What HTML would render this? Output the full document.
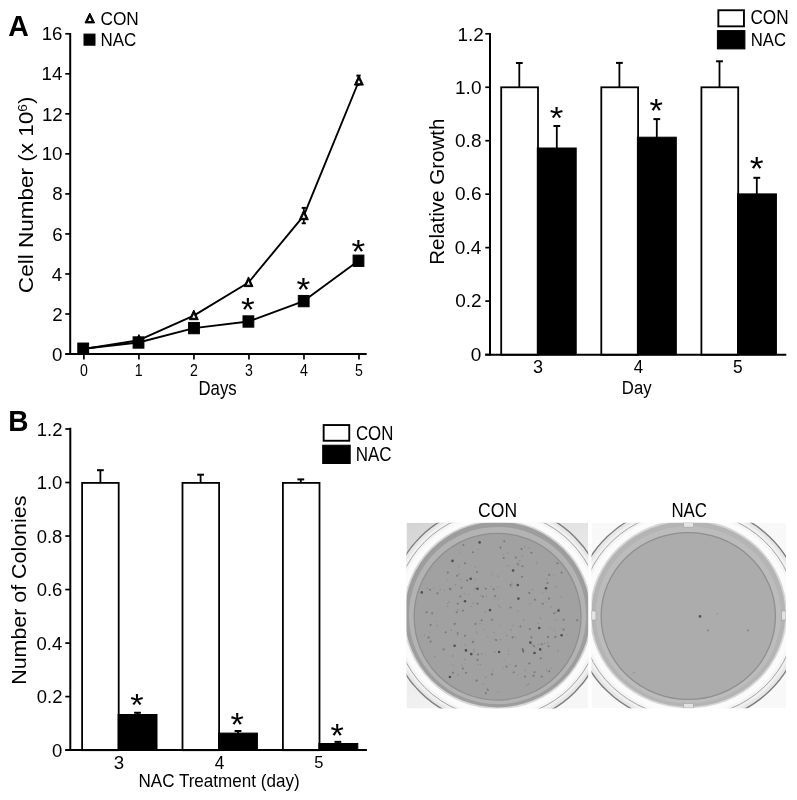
<!DOCTYPE html>
<html><head><meta charset="utf-8"><title>Figure</title>
<style>html,body{margin:0;padding:0;background:#fff;}svg{display:block;filter:grayscale(1);}</style></head>
<body><svg width="797" height="800" viewBox="0 0 797 800">
<defs><linearGradient id="bgC" x1="0" y1="0" x2="0.5" y2="1"><stop offset="0" stop-color="#d4d4d4"/><stop offset="0.45" stop-color="#e6e6e6"/><stop offset="1" stop-color="#f6f6f6"/></linearGradient>
<clipPath id="cpC"><rect x="406.5" y="522.7" width="181.7" height="185.9"/></clipPath>
<clipPath id="cpN"><rect x="591.5" y="522.7" width="194.5" height="185.5"/></clipPath>
<filter id="soft" x="-5%" y="-5%" width="110%" height="110%"><feGaussianBlur stdDeviation="0.4"/></filter></defs>
<rect width="797" height="800" fill="#fff"/>
<g clip-path="url(#cpC)">
<rect x="406.5" y="522.7" width="181.7" height="185.9" fill="url(#bgC)"/>
<g filter="url(#soft)">
<ellipse cx="497.55" cy="614.6" rx="109.5" ry="109.5" fill="#e6e6e6" stroke="#7e7e7e" stroke-width="1.4"/>
<ellipse cx="497.55" cy="614.6" rx="106" ry="106" fill="#f0f0f0"/>
<ellipse cx="497.55" cy="614.6" rx="103" ry="103" fill="#f4f4f4" stroke="#a4a4a4" stroke-width="1"/>
<ellipse cx="497.55" cy="614.6" rx="100" ry="100" fill="#fbfbfb"/>
<ellipse cx="497.55" cy="614.6" rx="94.5" ry="94.5" fill="#d6d6d6"/>
<ellipse cx="497.55" cy="614.6" rx="92.8" ry="92.8" fill="#9d9d9d"/>
<ellipse cx="497.55" cy="615.5" rx="88.6" ry="88.6" fill="#b3b3b3"/>
<ellipse cx="497.55" cy="616.7" rx="83.4" ry="83.4" fill="#a1a1a1" stroke="#8f8f8f" stroke-width="1.3"/>
</g>
<g filter="url(#soft)">
<circle cx="455.57" cy="623.68" r="0.71" fill="#8e8e8e"/>
<circle cx="514.13" cy="636.72" r="0.62" fill="#8e8e8e"/>
<circle cx="459" cy="574.09" r="0.9" fill="#8e8e8e"/>
<circle cx="492.74" cy="670.43" r="0.74" fill="#8e8e8e"/>
<circle cx="519.75" cy="560.7" r="0.79" fill="#8e8e8e"/>
<circle cx="556.39" cy="620.31" r="0.82" fill="#8e8e8e"/>
<circle cx="524.93" cy="546.85" r="0.83" fill="#8e8e8e"/>
<circle cx="512.08" cy="584.8" r="0.61" fill="#8e8e8e"/>
<circle cx="555.98" cy="612.24" r="0.82" fill="#8e8e8e"/>
<circle cx="558.11" cy="650.86" r="0.88" fill="#8e8e8e"/>
<circle cx="480.69" cy="664.75" r="0.73" fill="#8e8e8e"/>
<circle cx="487.29" cy="636.86" r="0.69" fill="#8e8e8e"/>
<circle cx="498.66" cy="598.34" r="0.71" fill="#8e8e8e"/>
<circle cx="511.11" cy="630.08" r="0.87" fill="#8e8e8e"/>
<circle cx="526.62" cy="685.23" r="0.86" fill="#8e8e8e"/>
<circle cx="508.56" cy="650.81" r="0.66" fill="#8e8e8e"/>
<circle cx="550.56" cy="628.37" r="0.69" fill="#8e8e8e"/>
<circle cx="545.6" cy="602.27" r="0.65" fill="#8e8e8e"/>
<circle cx="464.52" cy="659.61" r="0.86" fill="#8e8e8e"/>
<circle cx="424.57" cy="634.93" r="0.61" fill="#8e8e8e"/>
<circle cx="532.45" cy="589.55" r="0.86" fill="#8e8e8e"/>
<circle cx="429.82" cy="632.56" r="0.61" fill="#8e8e8e"/>
<circle cx="449.08" cy="601.87" r="0.78" fill="#8e8e8e"/>
<circle cx="556.34" cy="586.81" r="0.89" fill="#8e8e8e"/>
<circle cx="560.97" cy="597.05" r="0.74" fill="#8e8e8e"/>
<circle cx="500.71" cy="639.62" r="0.78" fill="#8e8e8e"/>
<circle cx="506.98" cy="635.82" r="0.88" fill="#8e8e8e"/>
<circle cx="498.62" cy="605.59" r="0.82" fill="#8e8e8e"/>
<circle cx="455.52" cy="584.77" r="0.89" fill="#8e8e8e"/>
<circle cx="500.88" cy="624.35" r="0.6" fill="#8e8e8e"/>
<circle cx="483.93" cy="629.39" r="0.61" fill="#8e8e8e"/>
<circle cx="516.03" cy="637.75" r="0.62" fill="#8e8e8e"/>
<circle cx="517.87" cy="611.2" r="0.8" fill="#8e8e8e"/>
<circle cx="473.91" cy="649.71" r="0.82" fill="#8e8e8e"/>
<circle cx="457.68" cy="609.61" r="0.78" fill="#8e8e8e"/>
<circle cx="468.7" cy="594.83" r="0.69" fill="#8e8e8e"/>
<circle cx="476.56" cy="631.9" r="0.69" fill="#8e8e8e"/>
<circle cx="477.85" cy="660.16" r="0.61" fill="#8e8e8e"/>
<circle cx="508.58" cy="654.23" r="0.69" fill="#8e8e8e"/>
<circle cx="453.11" cy="665.21" r="0.67" fill="#8e8e8e"/>
<circle cx="447.48" cy="606.24" r="0.81" fill="#8e8e8e"/>
<circle cx="433.79" cy="588.11" r="0.7" fill="#8e8e8e"/>
<circle cx="550.87" cy="606.75" r="0.86" fill="#8e8e8e"/>
<circle cx="444.59" cy="590.47" r="0.8" fill="#8e8e8e"/>
<circle cx="559.08" cy="608.78" r="0.67" fill="#8e8e8e"/>
<circle cx="436.85" cy="621.34" r="0.66" fill="#8e8e8e"/>
<circle cx="546.58" cy="670.76" r="0.66" fill="#8e8e8e"/>
<circle cx="462.07" cy="665.76" r="0.79" fill="#8e8e8e"/>
<circle cx="546.5" cy="591.85" r="0.64" fill="#8e8e8e"/>
<circle cx="464.21" cy="663.62" r="0.68" fill="#8e8e8e"/>
<circle cx="472.92" cy="603.3" r="0.73" fill="#8e8e8e"/>
<circle cx="483.02" cy="683.9" r="0.65" fill="#8e8e8e"/>
<circle cx="487" cy="688.63" r="0.88" fill="#8e8e8e"/>
<circle cx="453.03" cy="655.88" r="0.85" fill="#8e8e8e"/>
<circle cx="523.58" cy="619.64" r="0.69" fill="#8e8e8e"/>
<circle cx="472.07" cy="572.99" r="0.62" fill="#8e8e8e"/>
<circle cx="511.69" cy="582.52" r="0.84" fill="#8e8e8e"/>
<circle cx="528.49" cy="684.42" r="0.87" fill="#8e8e8e"/>
<circle cx="561.45" cy="628.91" r="0.6" fill="#8e8e8e"/>
<circle cx="536.75" cy="564.09" r="0.69" fill="#8e8e8e"/>
<circle cx="523.56" cy="620.59" r="0.72" fill="#8e8e8e"/>
<circle cx="567.75" cy="634.55" r="0.7" fill="#8e8e8e"/>
<circle cx="457.9" cy="674.47" r="0.74" fill="#8e8e8e"/>
<circle cx="542.67" cy="592.89" r="0.66" fill="#8e8e8e"/>
<circle cx="503.04" cy="667.29" r="0.65" fill="#8e8e8e"/>
<circle cx="546.47" cy="668.36" r="0.6" fill="#8e8e8e"/>
<circle cx="518.08" cy="674.61" r="0.61" fill="#8e8e8e"/>
<circle cx="460.92" cy="579.57" r="0.76" fill="#8e8e8e"/>
<circle cx="485.18" cy="612.26" r="0.83" fill="#8e8e8e"/>
<circle cx="497.84" cy="587.14" r="0.69" fill="#8e8e8e"/>
<circle cx="473.71" cy="640.11" r="0.78" fill="#8e8e8e"/>
<circle cx="475.23" cy="567.17" r="0.7" fill="#8e8e8e"/>
<circle cx="437.3" cy="625.48" r="0.81" fill="#8e8e8e"/>
<circle cx="478.34" cy="549.38" r="0.65" fill="#8e8e8e"/>
<circle cx="477.22" cy="633.31" r="0.83" fill="#8e8e8e"/>
<circle cx="478.34" cy="664.79" r="0.79" fill="#8e8e8e"/>
<circle cx="486.55" cy="596.19" r="0.75" fill="#8e8e8e"/>
<circle cx="529.96" cy="603.88" r="0.81" fill="#8e8e8e"/>
<circle cx="491.23" cy="575.81" r="0.76" fill="#8e8e8e"/>
<circle cx="528.73" cy="548.05" r="0.73" fill="#8e8e8e"/>
<circle cx="485.64" cy="677.35" r="0.88" fill="#8e8e8e"/>
<circle cx="477.38" cy="680.26" r="0.84" fill="#8e8e8e"/>
<circle cx="459.45" cy="610.86" r="0.64" fill="#8e8e8e"/>
<circle cx="547.62" cy="642.57" r="0.87" fill="#8e8e8e"/>
<circle cx="544.3" cy="643.41" r="0.82" fill="#8e8e8e"/>
<circle cx="507.72" cy="553.1" r="0.78" fill="#8e8e8e"/>
<circle cx="525.27" cy="670.39" r="0.89" fill="#8e8e8e"/>
<circle cx="510.15" cy="664.4" r="0.61" fill="#8e8e8e"/>
<circle cx="540.29" cy="618.41" r="0.81" fill="#8e8e8e"/>
<circle cx="434.58" cy="656.43" r="0.88" fill="#8e8e8e"/>
<circle cx="427.28" cy="588.48" r="0.77" fill="#8e8e8e"/>
<circle cx="549.99" cy="575.34" r="0.65" fill="#8e8e8e"/>
<circle cx="457.49" cy="635.16" r="0.83" fill="#8e8e8e"/>
<circle cx="480.5" cy="595.4" r="0.72" fill="#8e8e8e"/>
<circle cx="473.55" cy="603.51" r="0.62" fill="#8e8e8e"/>
<circle cx="497.55" cy="692.29" r="0.72" fill="#8e8e8e"/>
<circle cx="537.09" cy="562.3" r="0.81" fill="#8e8e8e"/>
<circle cx="538.48" cy="644.42" r="0.76" fill="#8e8e8e"/>
<circle cx="494.9" cy="639.47" r="0.87" fill="#8e8e8e"/>
<circle cx="500.26" cy="607.49" r="0.82" fill="#8e8e8e"/>
<circle cx="447.28" cy="579.38" r="0.66" fill="#8e8e8e"/>
<circle cx="511.2" cy="586.98" r="0.67" fill="#8e8e8e"/>
<circle cx="464.84" cy="649.45" r="0.72" fill="#8e8e8e"/>
<circle cx="554.08" cy="630.14" r="0.68" fill="#8e8e8e"/>
<circle cx="494.22" cy="597.84" r="0.65" fill="#8e8e8e"/>
<circle cx="475.18" cy="588.13" r="0.83" fill="#8e8e8e"/>
<circle cx="494.23" cy="632.44" r="0.74" fill="#8e8e8e"/>
<circle cx="551.04" cy="668.06" r="0.77" fill="#8e8e8e"/>
<circle cx="494.51" cy="651.91" r="0.86" fill="#8e8e8e"/>
<circle cx="481.54" cy="653.97" r="0.89" fill="#8e8e8e"/>
<circle cx="492.28" cy="573.34" r="0.67" fill="#8e8e8e"/>
<circle cx="532.33" cy="644.66" r="0.89" fill="#8e8e8e"/>
<circle cx="554.12" cy="575.33" r="0.66" fill="#8e8e8e"/>
<circle cx="458.88" cy="566.55" r="0.81" fill="#8e8e8e"/>
<circle cx="458.3" cy="675.02" r="0.69" fill="#8e8e8e"/>
<circle cx="485.23" cy="653.23" r="0.63" fill="#8e8e8e"/>
<circle cx="464.18" cy="593.67" r="0.77" fill="#8e8e8e"/>
<circle cx="471.07" cy="606.4" r="0.75" fill="#8e8e8e"/>
<circle cx="451.12" cy="630.22" r="0.89" fill="#8e8e8e"/>
<circle cx="480.05" cy="623.7" r="0.64" fill="#8e8e8e"/>
<circle cx="461.46" cy="643.07" r="0.63" fill="#8e8e8e"/>
<circle cx="477.38" cy="660.19" r="0.83" fill="#8e8e8e"/>
<circle cx="464.79" cy="644.74" r="0.8" fill="#8e8e8e"/>
<circle cx="546.47" cy="579.09" r="0.83" fill="#8e8e8e"/>
<circle cx="503.29" cy="554.73" r="0.75" fill="#8e8e8e"/>
<circle cx="473.85" cy="651.49" r="0.8" fill="#8e8e8e"/>
<circle cx="508.12" cy="565.72" r="0.79" fill="#8e8e8e"/>
<circle cx="518.44" cy="565.26" r="0.87" fill="#8e8e8e"/>
<circle cx="522.36" cy="556.3" r="0.88" fill="#8e8e8e"/>
<circle cx="440.12" cy="589.64" r="0.82" fill="#8e8e8e"/>
<circle cx="513.09" cy="625.39" r="0.79" fill="#8e8e8e"/>
<circle cx="490.73" cy="586.59" r="0.65" fill="#8e8e8e"/>
<circle cx="538.22" cy="623.5" r="0.82" fill="#8e8e8e"/>
<circle cx="474.98" cy="579.14" r="0.72" fill="#8e8e8e"/>
<circle cx="498.25" cy="576.15" r="0.83" fill="#8e8e8e"/>
<circle cx="474.16" cy="589.86" r="0.72" fill="#8e8e8e"/>
<circle cx="504.14" cy="660.07" r="0.71" fill="#8e8e8e"/>
<circle cx="460.78" cy="552.54" r="0.63" fill="#8e8e8e"/>
<circle cx="542.14" cy="652.97" r="0.66" fill="#8e8e8e"/>
<circle cx="447.77" cy="603.26" r="0.82" fill="#8e8e8e"/>
<circle cx="463.4" cy="545" r="1.05" fill="#7a7a7a"/>
<circle cx="472.8" cy="552.3" r="1.05" fill="#7a7a7a"/>
<circle cx="465" cy="563.2" r="1.05" fill="#7a7a7a"/>
<circle cx="447.8" cy="572.6" r="1.05" fill="#7a7a7a"/>
<circle cx="477" cy="572.1" r="1.05" fill="#7a7a7a"/>
<circle cx="467.1" cy="580.4" r="1.05" fill="#7a7a7a"/>
<circle cx="457.2" cy="575.7" r="1.05" fill="#7a7a7a"/>
<circle cx="485.8" cy="588.7" r="1.05" fill="#7a7a7a"/>
<circle cx="493.6" cy="589.3" r="1.05" fill="#7a7a7a"/>
<circle cx="461.4" cy="587.7" r="1.05" fill="#7a7a7a"/>
<circle cx="450.4" cy="589.3" r="1.05" fill="#7a7a7a"/>
<circle cx="437.4" cy="593.2" r="1.05" fill="#7a7a7a"/>
<circle cx="430.1" cy="589.8" r="1.05" fill="#7a7a7a"/>
<circle cx="460.3" cy="596.5" r="1.05" fill="#7a7a7a"/>
<circle cx="482.7" cy="596.5" r="1.05" fill="#7a7a7a"/>
<circle cx="495.2" cy="596" r="1.05" fill="#7a7a7a"/>
<circle cx="477.5" cy="603.8" r="1.05" fill="#7a7a7a"/>
<circle cx="457.7" cy="603.8" r="1.05" fill="#7a7a7a"/>
<circle cx="462.9" cy="610.6" r="1.05" fill="#7a7a7a"/>
<circle cx="456.7" cy="612.2" r="1.05" fill="#7a7a7a"/>
<circle cx="426.5" cy="612.2" r="1.05" fill="#7a7a7a"/>
<circle cx="432.2" cy="613.2" r="1.05" fill="#7a7a7a"/>
<circle cx="449.9" cy="588.7" r="1.05" fill="#7a7a7a"/>
<circle cx="504.3" cy="541.3" r="1.05" fill="#7a7a7a"/>
<circle cx="500.6" cy="547.6" r="1.05" fill="#7a7a7a"/>
<circle cx="503.8" cy="558" r="1.05" fill="#7a7a7a"/>
<circle cx="515.8" cy="557.5" r="1.05" fill="#7a7a7a"/>
<circle cx="521.5" cy="549.1" r="1.05" fill="#7a7a7a"/>
<circle cx="517.8" cy="563.7" r="1.05" fill="#7a7a7a"/>
<circle cx="522.5" cy="566.3" r="1.05" fill="#7a7a7a"/>
<circle cx="522" cy="576.75" r="1.05" fill="#7a7a7a"/>
<circle cx="510.5" cy="585.1" r="1.05" fill="#7a7a7a"/>
<circle cx="529.3" cy="592.9" r="1.05" fill="#7a7a7a"/>
<circle cx="535" cy="599.7" r="1.05" fill="#7a7a7a"/>
<circle cx="549.1" cy="574.7" r="1.05" fill="#7a7a7a"/>
<circle cx="547.5" cy="583" r="1.05" fill="#7a7a7a"/>
<circle cx="549.1" cy="598.6" r="1.05" fill="#7a7a7a"/>
<circle cx="542.8" cy="603.8" r="1.05" fill="#7a7a7a"/>
<circle cx="510.5" cy="607.5" r="1.05" fill="#7a7a7a"/>
<circle cx="557.4" cy="563.2" r="1.05" fill="#7a7a7a"/>
<circle cx="561.6" cy="572.6" r="1.05" fill="#7a7a7a"/>
<circle cx="531.4" cy="552.8" r="1.05" fill="#7a7a7a"/>
<circle cx="554.3" cy="613.2" r="1.05" fill="#7a7a7a"/>
<circle cx="430.6" cy="624.9" r="1.05" fill="#7a7a7a"/>
<circle cx="454.6" cy="623.9" r="1.05" fill="#7a7a7a"/>
<circle cx="475.4" cy="623.9" r="1.05" fill="#7a7a7a"/>
<circle cx="481.7" cy="620.2" r="1.05" fill="#7a7a7a"/>
<circle cx="492.1" cy="619.7" r="1.05" fill="#7a7a7a"/>
<circle cx="445.7" cy="632.2" r="1.05" fill="#7a7a7a"/>
<circle cx="457.7" cy="633.2" r="1.05" fill="#7a7a7a"/>
<circle cx="428.5" cy="637.4" r="1.05" fill="#7a7a7a"/>
<circle cx="430.6" cy="641.6" r="1.05" fill="#7a7a7a"/>
<circle cx="443.6" cy="649.4" r="1.05" fill="#7a7a7a"/>
<circle cx="478" cy="654.6" r="1.05" fill="#7a7a7a"/>
<circle cx="472.8" cy="642.1" r="1.05" fill="#7a7a7a"/>
<circle cx="477.5" cy="659.8" r="1.05" fill="#7a7a7a"/>
<circle cx="462.9" cy="668.6" r="1.05" fill="#7a7a7a"/>
<circle cx="466" cy="672.8" r="1.05" fill="#7a7a7a"/>
<circle cx="453" cy="672.8" r="1.05" fill="#7a7a7a"/>
<circle cx="476.5" cy="680.6" r="1.05" fill="#7a7a7a"/>
<circle cx="487.9" cy="690" r="1.05" fill="#7a7a7a"/>
<circle cx="485.8" cy="693.1" r="1.05" fill="#7a7a7a"/>
<circle cx="492.1" cy="674.4" r="1.05" fill="#7a7a7a"/>
<circle cx="496.25" cy="640" r="1.05" fill="#7a7a7a"/>
<circle cx="465" cy="635.8" r="1.05" fill="#7a7a7a"/>
<circle cx="520.4" cy="626.5" r="1.05" fill="#7a7a7a"/>
<circle cx="529.8" cy="629.1" r="1.05" fill="#7a7a7a"/>
<circle cx="548" cy="636.9" r="1.05" fill="#7a7a7a"/>
<circle cx="563.7" cy="629.6" r="1.05" fill="#7a7a7a"/>
<circle cx="563.7" cy="619.7" r="1.05" fill="#7a7a7a"/>
<circle cx="577.2" cy="620.2" r="1.05" fill="#7a7a7a"/>
<circle cx="534" cy="646.25" r="1.05" fill="#7a7a7a"/>
<circle cx="541.8" cy="644.2" r="1.05" fill="#7a7a7a"/>
<circle cx="548.6" cy="646.25" r="1.05" fill="#7a7a7a"/>
<circle cx="512.6" cy="637.4" r="1.05" fill="#7a7a7a"/>
<circle cx="529.3" cy="663.4" r="1.05" fill="#7a7a7a"/>
<circle cx="506.4" cy="666.6" r="1.05" fill="#7a7a7a"/>
<circle cx="513.7" cy="672.3" r="1.05" fill="#7a7a7a"/>
<circle cx="534.5" cy="672.3" r="1.05" fill="#7a7a7a"/>
<circle cx="525.1" cy="676.5" r="1.05" fill="#7a7a7a"/>
<circle cx="533.5" cy="675.9" r="1.05" fill="#7a7a7a"/>
<circle cx="549.1" cy="671.25" r="1.05" fill="#7a7a7a"/>
<circle cx="541.8" cy="676.5" r="1.05" fill="#7a7a7a"/>
<circle cx="531.4" cy="637.4" r="1.05" fill="#7a7a7a"/>
<circle cx="555.3" cy="636.9" r="1.05" fill="#7a7a7a"/>
<circle cx="540.75" cy="658.2" r="1.05" fill="#7a7a7a"/>
<circle cx="515.75" cy="666" r="1.05" fill="#7a7a7a"/>
<circle cx="479.6" cy="542.4" r="1.3" fill="#505050"/>
<circle cx="452.5" cy="560.9" r="1.3" fill="#505050"/>
<circle cx="470.7" cy="578.8" r="1.3" fill="#505050"/>
<circle cx="477.5" cy="588.7" r="1.3" fill="#505050"/>
<circle cx="421.8" cy="592.4" r="1.3" fill="#505050"/>
<circle cx="465" cy="601.2" r="1.3" fill="#505050"/>
<circle cx="490" cy="610.1" r="1.3" fill="#505050"/>
<circle cx="513.1" cy="570.5" r="1.3" fill="#505050"/>
<circle cx="517.8" cy="585.1" r="1.3" fill="#505050"/>
<circle cx="518.4" cy="598.6" r="1.3" fill="#505050"/>
<circle cx="546" cy="588.2" r="1.3" fill="#505050"/>
<circle cx="558.5" cy="610.6" r="1.3" fill="#505050"/>
<circle cx="454.6" cy="645.7" r="1.3" fill="#505050"/>
<circle cx="466" cy="650.4" r="1.3" fill="#505050"/>
<circle cx="471.25" cy="654.1" r="1.3" fill="#505050"/>
<circle cx="449.9" cy="677" r="1.3" fill="#505050"/>
<circle cx="499.1" cy="652" r="1.3" fill="#505050"/>
<circle cx="539.2" cy="628" r="1.3" fill="#505050"/>
<circle cx="561.6" cy="635.3" r="1.3" fill="#505050"/>
<circle cx="530.3" cy="642.6" r="1.3" fill="#505050"/>
<circle cx="540.2" cy="649.4" r="1.3" fill="#505050"/>
<circle cx="534.5" cy="653" r="1.3" fill="#505050"/>
<ellipse cx="523" cy="650.4" rx="1" ry="2.4" fill="#6a6a6a" transform="rotate(-20 523 650.4)"/>
</g>
</g>
<g clip-path="url(#cpN)">
<rect x="591.5" y="522.7" width="194.5" height="185.5" fill="#f8f8f8"/>
<g filter="url(#soft)">
<ellipse cx="688.3" cy="613.9" rx="114.43" ry="109.5" fill="#e6e6e6" stroke="#7e7e7e" stroke-width="1.4"/>
<ellipse cx="688.3" cy="613.9" rx="110.77" ry="106" fill="#f0f0f0"/>
<ellipse cx="688.3" cy="613.9" rx="107.63" ry="103" fill="#f4f4f4" stroke="#a4a4a4" stroke-width="1"/>
<ellipse cx="688.3" cy="613.9" rx="104.5" ry="100" fill="#fbfbfb"/>
<ellipse cx="688.3" cy="613.9" rx="98.75" ry="94.5" fill="#d6d6d6"/>
<ellipse cx="688.3" cy="613.9" rx="96.98" ry="92.8" fill="#b4b4b4"/>
<ellipse cx="688.3" cy="614.8" rx="92.59" ry="88.6" fill="#bcbcbc"/>
<ellipse cx="688.3" cy="616" rx="87.15" ry="83.4" fill="#acacac" stroke="#8f8f8f" stroke-width="1.3"/>
</g>
<g filter="url(#soft)">
<circle cx="700" cy="616.4" r="1.3" fill="#555555"/>
<circle cx="707.9" cy="630.4" r="0.9" fill="#808080"/>
<circle cx="747.9" cy="630.4" r="0.9" fill="#808080"/>
<circle cx="717.4" cy="613.7" r="0.8" fill="#909090"/>
<circle cx="633.9" cy="672.9" r="0.8" fill="#909090"/>
<rect x="683.5" y="522.7" width="10" height="4.5" fill="#e2e2e2" stroke="#a0a0a0" stroke-width="0.6"/>
<rect x="683.5" y="703.5" width="10" height="4.5" fill="#e2e2e2" stroke="#a0a0a0" stroke-width="0.6"/>
<rect x="591.5" y="611" width="4.5" height="9" fill="#e2e2e2" stroke="#a0a0a0" stroke-width="0.6"/>
<rect x="781.5" y="611" width="4.5" height="9" fill="#e2e2e2" stroke="#a0a0a0" stroke-width="0.6"/>
</g>
</g>
<g stroke="#000" fill="#000">
<line x1="70.2" y1="33" x2="70.2" y2="355.1" stroke-width="2"/>
<line x1="65.3" y1="33.8" x2="70.2" y2="33.8" stroke-width="1.7"/>
<line x1="65.3" y1="73.83" x2="70.2" y2="73.83" stroke-width="1.7"/>
<line x1="65.3" y1="113.86" x2="70.2" y2="113.86" stroke-width="1.7"/>
<line x1="65.3" y1="153.89" x2="70.2" y2="153.89" stroke-width="1.7"/>
<line x1="65.3" y1="193.92" x2="70.2" y2="193.92" stroke-width="1.7"/>
<line x1="65.3" y1="233.95" x2="70.2" y2="233.95" stroke-width="1.7"/>
<line x1="65.3" y1="273.98" x2="70.2" y2="273.98" stroke-width="1.7"/>
<line x1="65.3" y1="314.01" x2="70.2" y2="314.01" stroke-width="1.7"/>
<line x1="65.3" y1="354.04" x2="70.2" y2="354.04" stroke-width="1.7"/>
<line x1="65.4" y1="354.1" x2="366.7" y2="354.1" stroke-width="2"/>
<line x1="83.9" y1="354.1" x2="83.9" y2="359.6" stroke-width="1.7"/>
<line x1="138.92" y1="354.1" x2="138.92" y2="359.6" stroke-width="1.7"/>
<line x1="193.94" y1="354.1" x2="193.94" y2="359.6" stroke-width="1.7"/>
<line x1="248.96" y1="354.1" x2="248.96" y2="359.6" stroke-width="1.7"/>
<line x1="303.98" y1="354.1" x2="303.98" y2="359.6" stroke-width="1.7"/>
<line x1="359" y1="354.1" x2="359" y2="359.6" stroke-width="1.7"/>
<polyline fill="none" stroke-width="1.9" stroke-linejoin="round" points="83.9,349 138.9,340.2 193.8,315.6 248.5,282.5 303.8,215.6 358.9,81"/>
<polyline fill="none" stroke-width="1.9" stroke-linejoin="round" points="83.2,348.7 138.5,342.5 194,328.1 248.4,321.5 303.7,301.1 358.5,260.75"/>
<line x1="303.8" y1="223.3" x2="303.8" y2="207.9" stroke-width="1.7"/>
<line x1="301.7" y1="207.9" x2="305.9" y2="207.9" stroke-width="2"/>
<line x1="301.7" y1="223.3" x2="305.9" y2="223.3" stroke-width="1.9"/>
<line x1="358.5" y1="86" x2="358.5" y2="75.6" stroke-width="1.7"/>
<line x1="356.35" y1="75.6" x2="360.65" y2="75.6" stroke-width="2"/>
<polygon points="83.9,343.4 79.4,353.1 88.4,353.1" fill="#000"/>
<polygon points="83.9,346.73 81.59,351.7 86.21,351.7" fill="#fff"/>
<polygon points="138.9,334.6 134.4,344.3 143.4,344.3" fill="#000"/>
<polygon points="138.9,337.93 136.59,342.9 141.21,342.9" fill="#fff"/>
<polygon points="193.8,310 189.3,319.7 198.3,319.7" fill="#000"/>
<polygon points="193.8,313.33 191.49,318.3 196.11,318.3" fill="#fff"/>
<polygon points="248.5,276.9 244,286.6 253,286.6" fill="#000"/>
<polygon points="248.5,280.23 246.19,285.2 250.81,285.2" fill="#fff"/>
<polygon points="303.8,210 299.3,219.7 308.3,219.7" fill="#000"/>
<polygon points="303.8,213.33 301.49,218.3 306.11,218.3" fill="#fff"/>
<polygon points="358.9,75.4 354.4,85.1 363.4,85.1" fill="#000"/>
<polygon points="358.9,78.73 356.59,83.7 361.21,83.7" fill="#fff"/>
<rect x="77.8" y="343.05" width="10.8" height="11.3" fill="#000"/>
<rect x="133.1" y="336.85" width="10.8" height="11.3" fill="#000"/>
<rect x="188.6" y="322.45" width="10.8" height="11.3" fill="#000"/>
<rect x="243" y="315.85" width="10.8" height="11.3" fill="#000"/>
<rect x="298.3" y="295.45" width="10.8" height="11.3" fill="#000"/>
<rect x="353.1" y="255.1" width="10.8" height="11.3" fill="#000"/>
<polygon points="89.8,13 85,22.9 94.6,22.9" fill="#000"/>
<polygon points="89.8,16.21 87.23,21.5 92.37,21.5" fill="#fff"/>
<rect x="84" y="34.1" width="11" height="11.1" fill="#000"/>
<line x1="490" y1="33" x2="490" y2="355.7" stroke-width="2"/>
<line x1="485.3" y1="33.8" x2="490" y2="33.8" stroke-width="1.7"/>
<line x1="485.3" y1="87.26" x2="490" y2="87.26" stroke-width="1.7"/>
<line x1="485.3" y1="140.72" x2="490" y2="140.72" stroke-width="1.7"/>
<line x1="485.3" y1="194.18" x2="490" y2="194.18" stroke-width="1.7"/>
<line x1="485.3" y1="247.64" x2="490" y2="247.64" stroke-width="1.7"/>
<line x1="485.3" y1="301.1" x2="490" y2="301.1" stroke-width="1.7"/>
<line x1="485.3" y1="354.56" x2="490" y2="354.56" stroke-width="1.7"/>
<line x1="519.3" y1="87.3" x2="519.3" y2="63" stroke-width="1.8"/>
<line x1="515.9" y1="63" x2="522.7" y2="63" stroke-width="2"/>
<rect x="501.2" y="87.3" width="36.8" height="267.5" fill="#fff" stroke-width="1.8"/>
<line x1="556.8" y1="149" x2="556.8" y2="126" stroke-width="1.8"/>
<line x1="553.4" y1="126" x2="560.2" y2="126" stroke-width="2"/>
<rect x="537.3" y="148" width="38.9" height="206.7" fill="#000"/>
<line x1="619.4" y1="87.3" x2="619.4" y2="62.9" stroke-width="1.8"/>
<line x1="616" y1="62.9" x2="622.8" y2="62.9" stroke-width="2"/>
<rect x="601.3" y="87.3" width="36.8" height="267.5" fill="#fff" stroke-width="1.8"/>
<line x1="656.8" y1="138.2" x2="656.8" y2="119.1" stroke-width="1.8"/>
<line x1="653.4" y1="119.1" x2="660.2" y2="119.1" stroke-width="2"/>
<rect x="637.4" y="137.2" width="38.9" height="217.5" fill="#000"/>
<line x1="719.5" y1="87.3" x2="719.5" y2="61.3" stroke-width="1.8"/>
<line x1="716.1" y1="61.3" x2="722.9" y2="61.3" stroke-width="2"/>
<rect x="701.4" y="87.3" width="36.8" height="267.5" fill="#fff" stroke-width="1.8"/>
<line x1="756.8" y1="194.9" x2="756.8" y2="177.8" stroke-width="1.8"/>
<line x1="753.4" y1="177.8" x2="760.2" y2="177.8" stroke-width="2"/>
<rect x="737.5" y="193.9" width="38.9" height="160.8" fill="#000"/>
<line x1="485.2" y1="354.7" x2="786.3" y2="354.7" stroke-width="2"/>
<rect x="718.35" y="10.25" width="25.6" height="16.1" fill="#fff" stroke-width="1.9"/>
<rect x="717.4" y="30.6" width="27.5" height="18.3" fill="#000"/>
<line x1="70.3" y1="427.7" x2="70.3" y2="751.1" stroke-width="2"/>
<line x1="65.3" y1="429" x2="70.3" y2="429" stroke-width="1.7"/>
<line x1="65.3" y1="482.52" x2="70.3" y2="482.52" stroke-width="1.7"/>
<line x1="65.3" y1="536.04" x2="70.3" y2="536.04" stroke-width="1.7"/>
<line x1="65.3" y1="589.56" x2="70.3" y2="589.56" stroke-width="1.7"/>
<line x1="65.3" y1="643.08" x2="70.3" y2="643.08" stroke-width="1.7"/>
<line x1="65.3" y1="696.6" x2="70.3" y2="696.6" stroke-width="1.7"/>
<line x1="65.3" y1="750.12" x2="70.3" y2="750.12" stroke-width="1.7"/>
<line x1="100.4" y1="483" x2="100.4" y2="470.2" stroke-width="1.8"/>
<line x1="97" y1="470.2" x2="103.8" y2="470.2" stroke-width="2"/>
<rect x="82.1" y="482.9" width="36.6" height="267.3" fill="#fff" stroke-width="1.8"/>
<line x1="137.5" y1="715.5" x2="137.5" y2="712.75" stroke-width="1.8"/>
<line x1="134.1" y1="712.75" x2="140.9" y2="712.75" stroke-width="2"/>
<rect x="118.1" y="714.5" width="38.9" height="35.6" fill="#000"/>
<line x1="200.6" y1="483" x2="200.6" y2="474.7" stroke-width="1.8"/>
<line x1="197.2" y1="474.7" x2="204" y2="474.7" stroke-width="2"/>
<rect x="182.5" y="482.9" width="36.6" height="267.3" fill="#fff" stroke-width="1.8"/>
<line x1="238" y1="734.1" x2="238" y2="731" stroke-width="1.8"/>
<line x1="234.6" y1="731" x2="241.4" y2="731" stroke-width="2"/>
<rect x="218.5" y="733.1" width="38.9" height="17" fill="#000"/>
<line x1="300.8" y1="483" x2="300.8" y2="479.4" stroke-width="1.8"/>
<line x1="297.4" y1="479.4" x2="304.2" y2="479.4" stroke-width="2"/>
<rect x="282.9" y="482.9" width="36.6" height="267.3" fill="#fff" stroke-width="1.8"/>
<line x1="337.9" y1="744.5" x2="337.9" y2="741.85" stroke-width="1.8"/>
<line x1="334.5" y1="741.85" x2="341.3" y2="741.85" stroke-width="2"/>
<rect x="318.9" y="743.5" width="38.9" height="6.6" fill="#000"/>
<line x1="65.4" y1="750.1" x2="366.9" y2="750.1" stroke-width="2"/>
<rect x="323.65" y="425.05" width="25.6" height="15.7" fill="#fff" stroke-width="1.9"/>
<rect x="322.7" y="445.2" width="27.5" height="18.3" fill="#000"/>
</g>
<g font-family="Liberation Sans" font-size="20" fill="#000">
<text transform="matrix(1.424,0,0,1.45,8.145,35.6)" font-weight="bold">A</text>
<text transform="matrix(1.402,0,0,1.442,8.138,430.6)" font-weight="bold">B</text>
<text transform="matrix(0.864,0,0,0.958,100.436,24.908)" font-weight="normal">CON</text>
<text transform="matrix(0.849,0,0,0.937,100.541,46.213)" font-weight="normal">NAC</text>
<text transform="matrix(0.84,0,0,0.983,198.456,394.57)" font-weight="normal">Days</text>
<text transform="matrix(0.834,0,0,0.961,621.865,394.263)" font-weight="normal">Day</text>
<text transform="matrix(0.854,0,0,0.963,138.433,786.856)" font-weight="normal">NAC Treatment (day)</text>
<text transform="matrix(0.861,0,0,0.972,750.439,24.006)" font-weight="normal">CON</text>
<text transform="matrix(0.837,0,0,0.923,750.661,45.715)" font-weight="normal">NAC</text>
<text transform="matrix(0.842,0,0,0.986,355.958,439.503)" font-weight="normal">CON</text>
<text transform="matrix(0.849,0,0,0.972,355.741,460.906)" font-weight="normal">NAC</text>
<text transform="matrix(0.876,0,0,1.007,478.124,516.999)" font-weight="normal">CON</text>
<text transform="matrix(0.842,0,0,0.993,671.453,517.001)" font-weight="normal">NAC</text>
<text transform="matrix(0.904,0,0,0.901,532.877,372.52)" font-weight="normal">3</text>
<text transform="matrix(0.843,0,0,0.9,633.763,372.9)" font-weight="normal">4</text>
<text transform="matrix(0.865,0,0,0.929,733.108,372.714)" font-weight="normal">5</text>
<text transform="matrix(0.936,0,0,0.901,113.651,768.52)" font-weight="normal">3</text>
<text transform="matrix(0.863,0,0,0.943,214.655,768.8)" font-weight="normal">4</text>
<text transform="matrix(0.823,0,0,0.864,314.242,768.227)" font-weight="normal">5</text>
<text transform="matrix(1.757,0,0,1.614,241.097,320.977)" font-weight="normal">*</text>
<text transform="matrix(1.771,0,0,1.671,296.391,301.466)" font-weight="normal">*</text>
<text transform="matrix(1.757,0,0,1.657,351.597,263.169)" font-weight="normal">*</text>
<text transform="matrix(1.743,0,0,1.614,549.703,128.877)" font-weight="normal">*</text>
<text transform="matrix(1.729,0,0,1.643,649.409,122.071)" font-weight="normal">*</text>
<text transform="matrix(1.786,0,0,1.657,749.686,180.069)" font-weight="normal">*</text>
<text transform="matrix(1.714,0,0,1.6,130.314,716.08)" font-weight="normal">*</text>
<text transform="matrix(1.714,0,0,1.614,230.414,736.177)" font-weight="normal">*</text>
<text transform="matrix(1.714,0,0,1.671,330.414,747.366)" font-weight="normal">*</text>
<text transform="matrix(0,-1.127,1.045,0,32.51,293.127)">Cell Number (x 10<tspan font-size="60%" dy="-0.45em">6</tspan><tspan dy="0.27em">)</tspan></text>
<text transform="matrix(0,-1.027,1.014,0,443.997,264.742)">Relative Growth</text>
<text transform="matrix(0,-1.071,1.014,0,25.797,684.813)">Number of Colonies</text>
<text transform="matrix(0.935,0,0,0.9,41.691,40.36)">16</text>
<text transform="matrix(0.935,0,0,0.9,41.504,80.48)">14</text>
<text transform="matrix(0.935,0,0,0.9,41.878,120.51)">12</text>
<text transform="matrix(0.935,0,0,0.9,41.691,160.45)">10</text>
<text transform="matrix(0.935,0,0,0.9,52.163,200.48)">8</text>
<text transform="matrix(0.935,0,0,0.9,52.163,240.51)">6</text>
<text transform="matrix(0.935,0,0,0.9,51.789,280.63)">4</text>
<text transform="matrix(0.935,0,0,0.9,52.163,320.66)">2</text>
<text transform="matrix(0.935,0,0,0.9,51.976,360.6)">0</text>
<text transform="matrix(0.95,0,0,0.908,457.53,40.759)">1.2</text>
<text transform="matrix(0.95,0,0,0.908,455.04,93.528)">1.0</text>
<text transform="matrix(0.95,0,0,0.908,455.04,146.988)">0.8</text>
<text transform="matrix(0.95,0,0,0.908,455.04,200.448)">0.6</text>
<text transform="matrix(0.95,0,0,0.908,454.85,253.908)">0.4</text>
<text transform="matrix(0.95,0,0,0.908,455.23,307.368)">0.2</text>
<text transform="matrix(0.95,0,0,0.908,470.816,360.828)">0</text>
<text transform="matrix(0.924,0,0,0.88,36.846,435.762)">1.2</text>
<text transform="matrix(0.924,0,0,0.88,36.661,489.194)">1.0</text>
<text transform="matrix(0.924,0,0,0.88,36.661,542.714)">0.8</text>
<text transform="matrix(0.924,0,0,0.88,36.661,596.234)">0.6</text>
<text transform="matrix(0.924,0,0,0.88,36.476,649.754)">0.4</text>
<text transform="matrix(0.924,0,0,0.88,36.846,703.274)">0.2</text>
<text transform="matrix(0.924,0,0,0.88,51.994,756.794)">0</text>
<text transform="matrix(0.708,0,0,0.831,79.933,375.634)">0</text>
<text transform="matrix(0.708,0,0,0.831,134.741,375.8)">1</text>
<text transform="matrix(0.708,0,0,0.831,189.973,375.8)">2</text>
<text transform="matrix(0.708,0,0,0.831,245.064,375.634)">3</text>
<text transform="matrix(0.708,0,0,0.831,300.084,375.8)">4</text>
<text transform="matrix(0.708,0,0,0.831,355.033,375.634)">5</text>
</g>
</svg></body></html>
